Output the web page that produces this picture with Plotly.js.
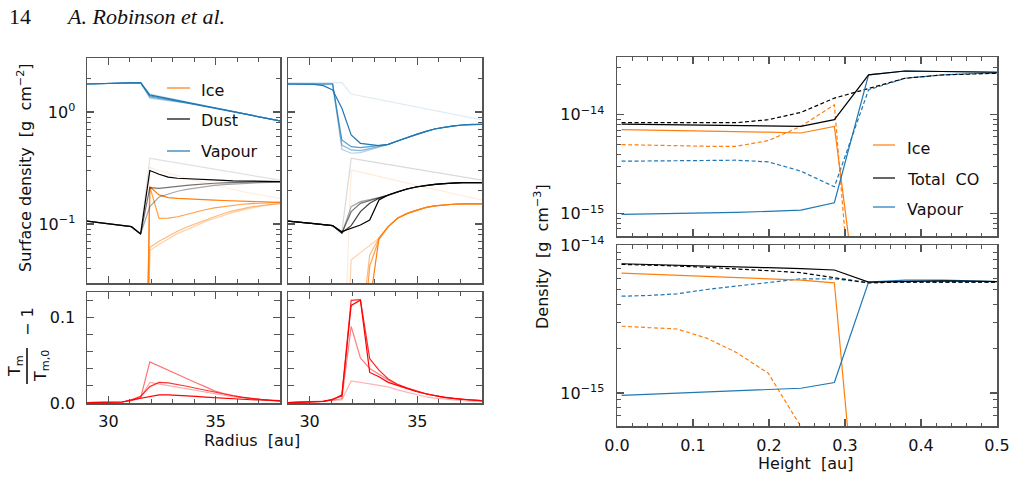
<!DOCTYPE html>
<html><head><meta charset="utf-8">
<script src="https://cdn.plot.ly/plotly-3.0.1.min.js"></script>
<style>html,body{margin:0;padding:0;background:#fff;}#chart{width:1017px;height:478px;}</style>
</head><body><div id="chart"></div>
<script>
// ---------------- data ----------------
const R = [28.92, 29.35, 29.78, 30.21, 30.64, 31.07, 31.50, 31.93, 32.36, 32.79, 33.22, 33.65, 34.08, 34.51, 34.94, 35.37, 35.80, 36.23, 36.66, 37.09, 37.52, 37.95, 38.38];

// left column, surface density (5 snapshots, light -> dark)
const leftVapour = [
  [1.776,1.785,1.793,1.800,1.810,1.820,1.826,1.450,1.390,1.330,1.275,1.225,1.178,1.133,1.088,1.048,1.008,0.972,0.936,0.901,0.868,0.835,0.804],
  [1.776,1.785,1.793,1.800,1.810,1.820,1.826,1.330,1.300,1.270,1.235,1.197,1.160,1.120,1.084,1.047,1.008,0.972,0.936,0.901,0.868,0.835,0.804],
  [1.776,1.785,1.793,1.800,1.810,1.820,1.826,1.360,1.325,1.285,1.245,1.203,1.163,1.123,1.085,1.047,1.008,0.972,0.936,0.901,0.868,0.835,0.804],
  [1.776,1.785,1.793,1.800,1.810,1.820,1.826,1.390,1.345,1.300,1.255,1.210,1.168,1.126,1.086,1.048,1.008,0.972,0.936,0.901,0.868,0.835,0.804],
  [1.776,1.785,1.793,1.800,1.810,1.820,1.826,1.419,1.366,1.315,1.266,1.219,1.174,1.130,1.088,1.048,1.008,0.972,0.936,0.901,0.868,0.835,0.804]
];
const leftDust = [
  [0.1064,0.1042,0.1016,0.0993,0.0970,0.0946,0.0814,0.386,0.374,0.362,0.351,0.340,0.329,0.319,0.309,0.299,0.290,0.281,0.272,0.263,0.255,0.247,0.239],
  [0.1064,0.1042,0.1016,0.0993,0.0970,0.0946,0.0814,0.143,0.174,0.186,0.196,0.204,0.210,0.216,0.221,0.225,0.228,0.231,0.233,0.234,0.235,0.236,0.237],
  [0.1064,0.1042,0.1016,0.0993,0.0970,0.0946,0.0814,0.211,0.208,0.213,0.217,0.221,0.225,0.229,0.231,0.233,0.235,0.236,0.237,0.238,0.238,0.239,0.239],
  [0.1064,0.1042,0.1016,0.0993,0.0970,0.0946,0.0814,0.300,0.278,0.262,0.256,0.253,0.251,0.249,0.247,0.245,0.243,0.242,0.241,0.240,0.239,0.239,0.238]
];
const leftDustAlpha = [0.12, 0.35, 0.55, 1.0];
const leftIce = [
  [null,null,null,null,null,null,3e-6,0.320,0.300,0.283,0.268,0.255,0.243,0.232,0.222,0.212,0.203,0.195,0.188,0.181,0.175,0.169,0.164],
  [null,null,null,null,null,null,3e-6,0.058,0.066,0.074,0.082,0.089,0.097,0.105,0.112,0.120,0.127,0.133,0.139,0.144,0.148,0.152,0.154],
  [null,null,null,null,null,null,3e-6,0.0616,0.070,0.078,0.086,0.094,0.101,0.109,0.117,0.124,0.131,0.137,0.142,0.146,0.150,0.153,0.155],
  [null,null,null,null,null,null,3e-6,0.215,0.112,0.113,0.116,0.122,0.128,0.134,0.139,0.143,0.147,0.150,0.152,0.154,0.155,0.156,0.156],
  [null,null,null,null,null,null,3e-6,0.215,0.182,0.172,0.169,0.167,0.166,0.165,0.163,0.162,0.161,0.160,0.159,0.158,0.157,0.156,0.155]
];

// right column of the left block
const midVapour = [
  [1.828,1.828,1.828,1.828,1.828,1.828,1.828,1.448,1.393,1.343,1.292,1.243,1.198,1.155,1.111,1.070,1.029,0.992,0.955,0.919,0.886,0.853,0.821],
  [1.778,1.778,1.778,1.778,1.778,1.778,0.464,0.428,0.433,0.458,0.487,0.514,0.551,0.590,0.632,0.667,0.705,0.730,0.750,0.765,0.776,0.776,0.776],
  [1.778,1.778,1.778,1.778,1.778,1.778,0.507,0.458,0.452,0.471,0.498,0.514,0.551,0.590,0.632,0.667,0.705,0.730,0.750,0.765,0.776,0.776,0.776],
  [1.778,1.778,1.778,1.778,1.778,1.778,0.562,0.490,0.480,0.490,0.5005,0.514,0.551,0.590,0.632,0.667,0.705,0.730,0.750,0.765,0.776,0.776,0.776],
  [1.778,1.778,1.778,1.766,1.718,1.572,1.078,0.623,0.525,0.514,0.5005,0.514,0.551,0.590,0.632,0.667,0.705,0.730,0.750,0.765,0.776,0.776,0.776]
];
const midDust = [
  [0.1064,0.1049,0.1028,0.1007,0.0987,0.0966,0.0846,0.386,0.374,0.362,0.351,0.340,0.330,0.320,0.309,0.300,0.290,0.282,0.273,0.264,0.256,0.248,0.240],
  [0.1064,0.1049,0.1028,0.1007,0.0987,0.0966,0.0825,0.1428,0.1582,0.1637,0.1718,0.1815,0.1944,0.2054,0.214,0.2215,0.226,0.2291,0.2323,0.2339,0.2339,0.2339,0.2339],
  [0.1064,0.1049,0.1028,0.1007,0.0987,0.0966,0.0825,0.1288,0.1529,0.1616,0.1718,0.1815,0.1944,0.2054,0.214,0.2215,0.226,0.2291,0.2323,0.2339,0.2339,0.2339,0.2339],
  [0.1064,0.1049,0.1028,0.1007,0.0987,0.0966,0.0837,0.0966,0.1288,0.1529,0.1695,0.1815,0.1944,0.2054,0.214,0.2215,0.226,0.2291,0.2323,0.2339,0.2339,0.2339,0.2339],
  [0.1064,0.1049,0.1028,0.1007,0.0987,0.0966,0.0854,0.0915,0.098,0.1086,0.1637,0.1815,0.1944,0.2054,0.214,0.2215,0.226,0.2291,0.2323,0.2339,0.2339,0.2339,0.2339]
];
const midIce = [
  [null,null,null,null,null,null,0.002,0.303,0.290,0.278,0.266,0.254,0.2435,0.233,0.223,0.213,0.204,0.195,0.187,0.179,0.171,0.164,0.157],
  [null,null,null,null,null,null,6e-4,0.0477,0.0555,0.0645,0.0745,0.0946,0.1124,0.1236,0.1324,0.140,0.1448,0.1478,0.150,0.151,0.151,0.151,0.151],
  [null,null,null,null,null,null,null,null,0.0098,0.053,0.075,0.0946,0.1124,0.1236,0.1324,0.140,0.1448,0.1478,0.150,0.151,0.151,0.151,0.151],
  [null,null,null,null,null,null,null,null,0.005,0.042,0.073,0.0946,0.1124,0.1236,0.1324,0.140,0.1448,0.1478,0.150,0.151,0.151,0.151,0.151],
  [null,null,null,null,null,null,null,null,null,0.019,0.0745,0.0946,0.1124,0.1236,0.1324,0.140,0.1448,0.1478,0.150,0.151,0.151,0.151,0.151]
];
const snapAlpha = [0.15, 0.35, 0.55, 0.75, 1.0];

// temperature perturbation panels
const leftTemp = [
  [0.0004,0.0004,0.0008,0.0008,0.0012,0.0031,0.0065,0.0242,0.0223,0.0204,0.0185,0.0165,0.0142,0.0127,0.0108,0.0088,0.0073,0.0062,0.005,0.0038,0.0031,0.0023,0.0019],
  [0.0004,0.0004,0.0008,0.0008,0.0012,0.0027,0.0058,0.0481,0.0431,0.0384,0.0334,0.0285,0.0238,0.0192,0.0142,0.0111,0.0085,0.0065,0.005,0.0038,0.0031,0.0023,0.0019],
  [0.0004,0.0004,0.0008,0.0008,0.0012,0.0038,0.0077,0.0192,0.0242,0.0235,0.0219,0.0196,0.0173,0.015,0.0127,0.0104,0.0085,0.0069,0.0054,0.0042,0.0035,0.0027,0.0023],
  [0.0004,0.0004,0.0008,0.0008,0.0012,0.0035,0.0058,0.0077,0.0096,0.0096,0.0092,0.0085,0.0077,0.0069,0.0062,0.0054,0.0046,0.0042,0.0038,0.0035,0.0031,0.0027,0.0023]
];
const leftTempAlpha = [0.35, 0.55, 0.8, 1.0];
const midTemp = [
  [0.0004,0.0008,0.0012,0.0015,0.0019,0.0027,0.0035,0.0258,0.0242,0.0227,0.0208,0.0188,0.0154,0.0127,0.0096,0.0073,0.0058,0.0046,0.0035,0.0027,0.0023,0.0019,0.0015],
  [0.0004,0.0008,0.0012,0.0015,0.0019,0.0035,0.005,0.0896,0.0527,0.0404,0.0334,0.0269,0.0211,0.0173,0.0138,0.0108,0.0085,0.0065,0.0054,0.0042,0.0035,0.0027,0.0023],
  [0.0004,0.0008,0.0012,0.0015,0.0019,0.0046,0.008,0.1203,0.1211,0.0519,0.0384,0.0281,0.0219,0.0177,0.0142,0.0111,0.0088,0.0069,0.0054,0.0042,0.0035,0.0027,0.0023],
  [0.0004,0.0008,0.0012,0.0015,0.0019,0.0038,0.0096,0.1142,0.1203,0.0358,0.0308,0.0242,0.0204,0.0169,0.0135,0.0108,0.0085,0.0065,0.0054,0.0042,0.0035,0.0027,0.0023]
];
const midTempAlpha = [0.3, 0.5, 0.85, 1.0];

// vertical profiles
const Z = [0.006, 0.041, 0.079, 0.118, 0.157, 0.199, 0.242, 0.286, 0.331, 0.379, 0.429, 0.48, 0.53];
const topTotal     = [8.05e-15,7.99e-15,7.93e-15,7.87e-15,7.81e-15,7.72e-15,7.63e-15,8.91e-15,2.53e-14,2.77e-14,2.75e-14,2.71e-14,2.67e-14];
const topTotalDash = [8.31e-15,8.31e-15,8.27e-15,8.24e-15,8.31e-15,8.91e-15,1.056e-14,1.472e-14,1.827e-14,2.34e-14,2.53e-14,2.63e-14,2.67e-14];
const topIce       = [7.06e-15,7.0e-15,6.93e-15,6.85e-15,6.77e-15,6.66e-15,6.54e-15,7.63e-15,1.55e-17,1e-18,1e-18,1e-18,1e-18];
const topIceDash   = [4.99e-15,4.91e-15,4.83e-15,4.80e-15,4.80e-15,5.47e-15,7.63e-15,1.26e-14,7.7e-19,1e-19,1e-19,1e-19,1e-19];
const topVap       = [9.84e-16,9.92e-16,1.003e-15,1.015e-15,1.03e-15,1.054e-15,1.088e-15,1.289e-15,2.53e-14,2.77e-14,2.75e-14,2.71e-14,2.67e-14];
const topVapDash   = [3.39e-15,3.42e-15,3.45e-15,3.47e-15,3.47e-15,3.34e-15,2.69e-15,1.87e-15,1.786e-14,2.34e-14,2.53e-14,2.63e-14,2.67e-14];
const botTotal     = [7.50e-15,7.43e-15,7.35e-15,7.27e-15,7.16e-15,7.05e-15,6.94e-15,6.80e-15,5.63e-15,5.72e-15,5.75e-15,5.69e-15,5.63e-15];
const botTotalDash = [7.43e-15,7.35e-15,7.24e-15,7.09e-15,6.94e-15,6.73e-15,6.52e-15,6.03e-15,5.57e-15,5.63e-15,5.66e-15,5.66e-15,5.63e-15];
const botIce       = [6.48e-15,6.38e-15,6.28e-15,6.18e-15,6.09e-15,5.96e-15,5.81e-15,5.57e-15,1.6e-17,1e-18,1e-18,1e-18,1e-18];
const botIceDash   = [2.83e-15,2.78e-15,2.71e-15,2.35e-15,1.88e-15,1.36e-15,5.9e-16,1.5e-16,1e-18,1e-18,1e-18,1e-18,1e-18];
const botVap       = [9.64e-16,9.79e-16,9.95e-16,1.010e-15,1.026e-15,1.048e-15,1.076e-15,1.176e-15,5.63e-15,5.81e-15,5.81e-15,5.72e-15,5.63e-15];
const botVapDash   = [4.52e-15,4.57e-15,4.69e-15,5.02e-15,5.29e-15,5.63e-15,5.93e-15,5.93e-15,5.57e-15,5.63e-15,5.66e-15,5.66e-15,5.63e-15];

// ticks
const radiusTicks = [30, 35];
const radiusMinor = [29, 31, 32, 33, 34, 36, 37, 38];
const sigmaTicks = [0.1, 1];
const sigmaTickText = ['10<sup>\u22121</sup>', '10<sup>0</sup>'];
const sigmaMinor = [0.03,0.04,0.05,0.06,0.07,0.08,0.09,0.2,0.3,0.4,0.5,0.6,0.7,0.8,0.9,2,3];
const tempTicks = [0, 0.1];
const tempTickText = ['0.0', '0.1'];
const tempMinor = [0.02, 0.04, 0.06, 0.08, 0.12];
const heightTicks = [0, 0.1, 0.2, 0.3, 0.4, 0.5];
const heightTickText = ['0.0', '0.1', '0.2', '0.3', '0.4', '0.5'];
const heightMinor = [0.02,0.04,0.06,0.08,0.12,0.14,0.16,0.18,0.22,0.24,0.26,0.28,0.32,0.34,0.36,0.38,0.42,0.44,0.46,0.48];
const rhoTicks = [1e-15, 1e-14];
const rhoTickText = ['10<sup>\u221215</sup>', '10<sup>\u221214</sup>'];
const rhoMinor = [6e-16,7e-16,8e-16,9e-16,2e-15,3e-15,4e-15,5e-15,6e-15,7e-15,8e-15,9e-15,2e-14,3e-14,4e-14];

// ---------------- drawing ----------------
const W = 1017, H = 478;
const px = v => v / W, py = v => 1 - v / H;
const BLUE = [31,119,180], ORANGE = [255,127,14], BLACK = [0,0,0], RED = [255,0,0];
const rgba = (c, a) => `rgba(${c[0]},${c[1]},${c[2]},${a})`;
const LW = 1.2;
const traces = [];
function addLines(sets, alphas, col, xa, ya, xs) {
  sets.forEach((ys, i) => traces.push({x: xs, y: ys, xaxis: xa, yaxis: ya, type: 'scatter', mode: 'lines',
    line: {color: rgba(col, alphas[i]), width: LW}, showlegend: false, hoverinfo: 'skip'}));
}
addLines(leftIce, snapAlpha, ORANGE, 'x', 'y', R);
addLines(leftDust, leftDustAlpha, BLACK, 'x', 'y', R);
addLines(leftVapour, snapAlpha, BLUE, 'x', 'y', R);
addLines(midIce, snapAlpha, ORANGE, 'x2', 'y2', R);
addLines(midDust, snapAlpha, BLACK, 'x2', 'y2', R);
addLines(midVapour, snapAlpha, BLUE, 'x2', 'y2', R);
addLines(leftTemp, leftTempAlpha, RED, 'x3', 'y3', R);
addLines(midTemp, midTempAlpha, RED, 'x4', 'y4', R);

function prof(ys, col, dash, xa, ya) {
  traces.push({x: Z, y: ys, xaxis: xa, yaxis: ya, type: 'scatter', mode: 'lines',
    line: {color: rgba(col, 1), width: LW, dash: dash ? '4px,2.5px' : 'solid'}, showlegend: false, hoverinfo: 'skip'});
}
prof(topIceDash, ORANGE, true, 'x5', 'y5'); prof(topVapDash, BLUE, true, 'x5', 'y5'); prof(topTotalDash, BLACK, true, 'x5', 'y5');
prof(topIce, ORANGE, false, 'x5', 'y5'); prof(topVap, BLUE, false, 'x5', 'y5'); prof(topTotal, BLACK, false, 'x5', 'y5');
prof(botIceDash, ORANGE, true, 'x6', 'y6'); prof(botVapDash, BLUE, true, 'x6', 'y6'); prof(botTotalDash, BLACK, true, 'x6', 'y6');
prof(botIce, ORANGE, false, 'x6', 'y6'); prof(botVap, BLUE, false, 'x6', 'y6'); prof(botTotal, BLACK, false, 'x6', 'y6');

const FONT = 'DejaVu Sans';
const AX = '#555';
const frame = {showline: true, linecolor: AX, linewidth: 1.5, mirror: 'allticks', ticks: 'inside', ticklen: 7,
  tickwidth: 1.2, tickcolor: AX, showgrid: false, zeroline: false, tickmode: 'array',
  tickfont: {family: FONT, size: 16, color: '#111'}};
const minor = (vals, len) => ({tickvals: vals, ticks: 'inside', ticklen: len || 4, tickwidth: 1, tickcolor: AX, showgrid: false});

const dTL = [py(283), py(58)], dBL = [py(403), py(292)];
const dTR = [py(236), py(57)], dBR = [py(426), py(245)];
const xL = [px(87), px(280)], xM = [px(288), px(482)], xR = [px(617), px(997)];

const layout = {
  width: W, height: H, margin: {l: 0, r: 0, t: 0, b: 0}, paper_bgcolor: '#fff', plot_bgcolor: '#fff',
  font: {family: FONT, color: '#111'},
  xaxis:  Object.assign({}, frame, {domain: xL, range: [29, 38], tickvals: radiusTicks, showticklabels: false, minor: minor(radiusMinor), anchor: 'y'}),
  xaxis2: Object.assign({}, frame, {domain: xM, range: [29, 38], tickvals: radiusTicks, showticklabels: false, minor: minor(radiusMinor), anchor: 'y2'}),
  xaxis3: Object.assign({}, frame, {domain: xL, range: [29, 38], tickvals: radiusTicks, ticktext: ['30','35'], minor: minor(radiusMinor), anchor: 'y3', ticklabelstandoff: 3}),
  xaxis4: Object.assign({}, frame, {domain: xM, range: [29, 38], tickvals: radiusTicks, ticktext: ['30','35'], minor: minor(radiusMinor), anchor: 'y4', ticklabelstandoff: 3}),
  xaxis5: Object.assign({}, frame, {domain: xR, range: [0, 0.5], tickvals: heightTicks, showticklabels: false, minor: minor(heightMinor, 3.5), anchor: 'y5'}),
  xaxis6: Object.assign({}, frame, {domain: xR, range: [0, 0.5], tickvals: heightTicks, ticktext: heightTickText, minor: minor(heightMinor, 3.5), anchor: 'y6', ticklabelstandoff: 4}),
  yaxis:  Object.assign({}, frame, {domain: dTL, type: 'log', range: [-1.527, 0.482], tickvals: sigmaTicks, ticktext: sigmaTickText, minor: minor(sigmaMinor), anchor: 'x', ticklabelstandoff: 7}),
  yaxis2: Object.assign({}, frame, {domain: dTL, type: 'log', range: [-1.527, 0.482], tickvals: sigmaTicks, showticklabels: false, minor: minor(sigmaMinor), anchor: 'x2'}),
  yaxis3: Object.assign({}, frame, {domain: dBL, range: [0, 0.13], tickvals: tempTicks, ticktext: tempTickText, minor: minor(tempMinor, 6), anchor: 'x3', ticklabelstandoff: 7}),
  yaxis4: Object.assign({}, frame, {domain: dBL, range: [0, 0.13], tickvals: tempTicks, showticklabels: false, minor: minor(tempMinor, 6), anchor: 'x4'}),
  yaxis5: Object.assign({}, frame, {domain: dTR, type: 'log', range: [-15.226, -13.416], tickvals: rhoTicks, ticktext: rhoTickText, minor: minor(rhoMinor), anchor: 'x5', ticklabelstandoff: 8}),
  yaxis6: Object.assign({}, frame, {domain: dBR, type: 'log', range: [-15.224, -13.998], tickvals: rhoTicks, ticktext: rhoTickText, minor: minor(rhoMinor), anchor: 'x6', ticklabelstandoff: 8}),
  shapes: [],
  annotations: []
};

function ann(text, x, y, opts) {
  layout.annotations.push(Object.assign({text: text, xref: 'paper', yref: 'paper', x: px(x), y: py(y),
    showarrow: false, xanchor: 'center', yanchor: 'middle', font: {family: FONT, size: 16, color: '#111'}}, opts || {}));
}
function seg(x0, x1, y, col) {
  layout.shapes.push({type: 'line', xref: 'paper', yref: 'paper', x0: px(x0), x1: px(x1), y0: py(y), y1: py(y), line: {color: col, width: LW}});
}

// header
ann('14', 7, 17, {xanchor: 'left', font: {family: 'Liberation Serif', size: 22, color: '#111'}});
ann('<i>A. Robinson et al.</i>', 64, 17, {xanchor: 'left', font: {family: 'Liberation Serif', size: 22, color: '#111'}});

// axis titles
ann('Radius\u00a0 [au]', 252, 440);
ann('Height\u00a0 [au]', 806, 463);
ann('Surface density\u00a0 [g\u00a0 cm<sup>\u22122</sup>]', 24, 168, {textangle: -90});
ann('Density\u00a0 [g\u00a0 cm<sup>\u22123</sup>]', 541, 257, {textangle: -90});
// Tm / Tm,0 - 1
ann('T<sub>m</sub>', 15, 366, {textangle: -90});
ann('T<sub>m,0</sub>', 41, 366, {textangle: -90});
layout.shapes.push({type: 'line', xref: 'paper', yref: 'paper', x0: px(27), x1: px(27), y0: py(348), y1: py(384), line: {color: '#111', width: 1.6}});
ann('\u2212 1', 27, 322, {textangle: -90});

// legends
seg(167, 190, 88, rgba(ORANGE, 1)); ann('Ice', 199, 90, {xanchor: 'left'});
seg(167, 190, 119, rgba(BLACK, 1)); ann('Dust', 199, 121, {xanchor: 'left'});
seg(167, 190, 151, rgba(BLUE, 1)); ann('Vapour', 199, 152, {xanchor: 'left'});
seg(873, 895, 145, rgba(ORANGE, 1)); ann('Ice', 905, 148, {xanchor: 'left'});
seg(873, 895, 178, rgba(BLACK, 1)); ann('Total\u00a0 CO', 905, 179, {xanchor: 'left'});
seg(873, 895, 207, rgba(BLUE, 1)); ann('Vapour', 905, 209, {xanchor: 'left'});

Plotly.newPlot('chart', traces, layout, {staticPlot: true, displayModeBar: false});
</script>
</body></html>
